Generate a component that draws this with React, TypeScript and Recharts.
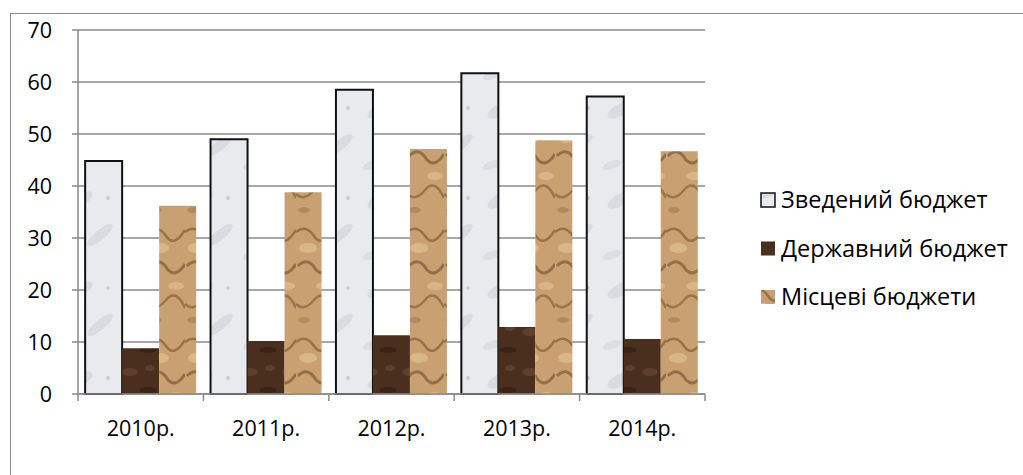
import React from "react";
import { BarChart, Bar, XAxis, YAxis, CartesianGrid } from "recharts";

const years = ["2010р.", "2011р.", "2012р.", "2013р.", "2014р."];
const zvedenyi = [44.8, 49.0, 58.5, 61.7, 57.2];
const derzhavnyi = [8.8, 10.2, 11.3, 12.9, 10.6];
const mistsevi = [36.2, 38.8, 47.1, 48.8, 46.7];
const yTicks = [0, 10, 20, 30, 40, 50, 60, 70];

const seriesNames = ["Зведений бюджет", "Державний бюджет", "Місцеві бюджети"];

const data = years.map((year, i) => ({
    year,
    zved: zvedenyi[i],
    derzh: derzhavnyi[i],
    mists: mistsevi[i],
}));

const W = 1023;
const H = 475;
const PLOT_LEFT = 78;
const PLOT_RIGHT = 705;
const BAND = (PLOT_RIGHT - PLOT_LEFT) / years.length;
const FONT = "'Open Sans', sans-serif";

const XTick = ({ x, y, payload, index }: any) => {
    return (
        <g>
            <line x1={x - BAND / 2} y1={y} x2={x - BAND / 2} y2={y + 7} stroke="#8a8a8a" strokeWidth={1.5} />
            {index === years.length - 1 && (
                <line x1={x + BAND / 2} y1={y} x2={x + BAND / 2} y2={y + 7} stroke="#8a8a8a" strokeWidth={1.5} />
            )}
            <text x={x} y={y + 42} textAnchor="middle" fontSize={21.5} fontFamily={FONT} fill="#000">
                {payload.value}
            </text>
        </g>
    );
};

const legendSwatch = [
    { fill: "url(#marble)", stroke: "#111" },
    { fill: "url(#darkwood)", stroke: "none" },
    { fill: "url(#tan)", stroke: "none" },
];

export default function App() {
    return (
        <div style={{ position: "absolute", left: 0, top: 0, width: W, height: H, overflow: "hidden", background: "#fff" }}>
            <div style={{ position: "absolute", left: 10, top: 13, width: 1100, height: 600, border: "1.5px solid #8a8a8a" }} />
            <div style={{ position: "absolute", left: 0, top: 0 }}>
                <BarChart
                    width={W}
                    height={H}
                    data={data}
                    margin={{ top: 30, right: W - PLOT_RIGHT, bottom: 0, left: 0 }}
                    barCategoryGap="5.7%"
                    barGap={0}
                >
                    <defs>
                        <pattern id="marble" patternUnits="userSpaceOnUse" width="60" height="90">
                            <rect width="60" height="90" fill="#e9eaee" />
                            <ellipse cx="20" cy="20" rx="14" ry="6" fill="#c9cbd1" opacity="0.45" transform="rotate(-30 20 20)" />
                            <ellipse cx="40" cy="55" rx="16" ry="5" fill="#c4c6cc" opacity="0.4" transform="rotate(-40 40 55)" />
                            <ellipse cx="12" cy="75" rx="10" ry="4" fill="#d0d2d8" opacity="0.5" transform="rotate(-20 12 75)" />
                            <circle cx="48" cy="18" r="2" fill="#b5b7bd" opacity="0.6" />
                        </pattern>
                        <pattern id="darkwood" patternUnits="userSpaceOnUse" width="40" height="40">
                            <rect width="40" height="40" fill="#4a2e1e" />
                            <ellipse cx="10" cy="12" rx="8" ry="4" fill="#6b4a36" opacity="0.6" />
                            <ellipse cx="28" cy="30" rx="9" ry="3" fill="#341e12" opacity="0.7" />
                            <ellipse cx="30" cy="8" rx="5" ry="3" fill="#7a5a44" opacity="0.4" />
                        </pattern>
                        <pattern id="tan" patternUnits="userSpaceOnUse" width="37" height="110">
                            <rect width="37" height="110" fill="#c9a071" />
                            <path d="M0 12 Q10 4 18 16 T37 10" stroke="#6e4a28" strokeWidth="2.5" fill="none" opacity="0.55" />
                            <path d="M2 46 Q12 36 20 50 Q28 58 37 44" stroke="#5e3d20" strokeWidth="3" fill="none" opacity="0.5" />
                            <path d="M0 84 Q8 92 18 80 T37 88" stroke="#6e4a28" strokeWidth="2.5" fill="none" opacity="0.5" />
                            <ellipse cx="12" cy="28" rx="9" ry="5" fill="#e6c79a" opacity="0.6" />
                            <ellipse cx="28" cy="66" rx="8" ry="4" fill="#e4c598" opacity="0.55" />
                            <ellipse cx="8" cy="100" rx="6" ry="3" fill="#9a7148" opacity="0.5" />
                        </pattern>
                    </defs>
                    <CartesianGrid vertical={false} stroke="#8a8a8a" strokeWidth={1.5} />
                    <XAxis
                        dataKey="year"
                        height={81}
                        axisLine={{ stroke: "#8a8a8a", strokeWidth: 1.5 }}
                        tickLine={false}
                        tickSize={0}
                        tickMargin={0}
                        interval={0}
                        tick={<XTick />}
                    />
                    <YAxis
                        width={PLOT_LEFT}
                        domain={[0, 70]}
                        ticks={yTicks}
                        interval={0}
                        axisLine={{ stroke: "#8a8a8a", strokeWidth: 1.5 }}
                        tickLine={{ stroke: "#8a8a8a", strokeWidth: 1.5 }}
                        tickSize={6}
                        tickMargin={20}
                        tick={{ fontSize: 21.5, fontFamily: FONT, fill: "#000" }}
                    />
                    <Bar dataKey="zved" name={seriesNames[0]} fill="url(#marble)" stroke="#111" strokeWidth={2} isAnimationActive={false} />
                    <Bar dataKey="derzh" name={seriesNames[1]} fill="url(#darkwood)" isAnimationActive={false} />
                    <Bar dataKey="mists" name={seriesNames[2]} fill="url(#tan)" isAnimationActive={false} />
                </BarChart>
            </div>
            <svg style={{ position: "absolute", left: 750, top: 170 }} width={273} height={150}>
                {seriesNames.map((name, i) => {
                    const cy = 30 + i * 48.5;
                    return (
                        <g key={name}>
                            <rect x={11} y={cy - 7} width={14} height={14} fill={legendSwatch[i].fill} stroke={legendSwatch[i].stroke} strokeWidth={1.5} />
                            <text x={31} y={cy + 8} fontSize={23.5} fontFamily={FONT} fill="#000">
                                {name}
                            </text>
                        </g>
                    );
                })}
            </svg>
        </div>
    );
}
